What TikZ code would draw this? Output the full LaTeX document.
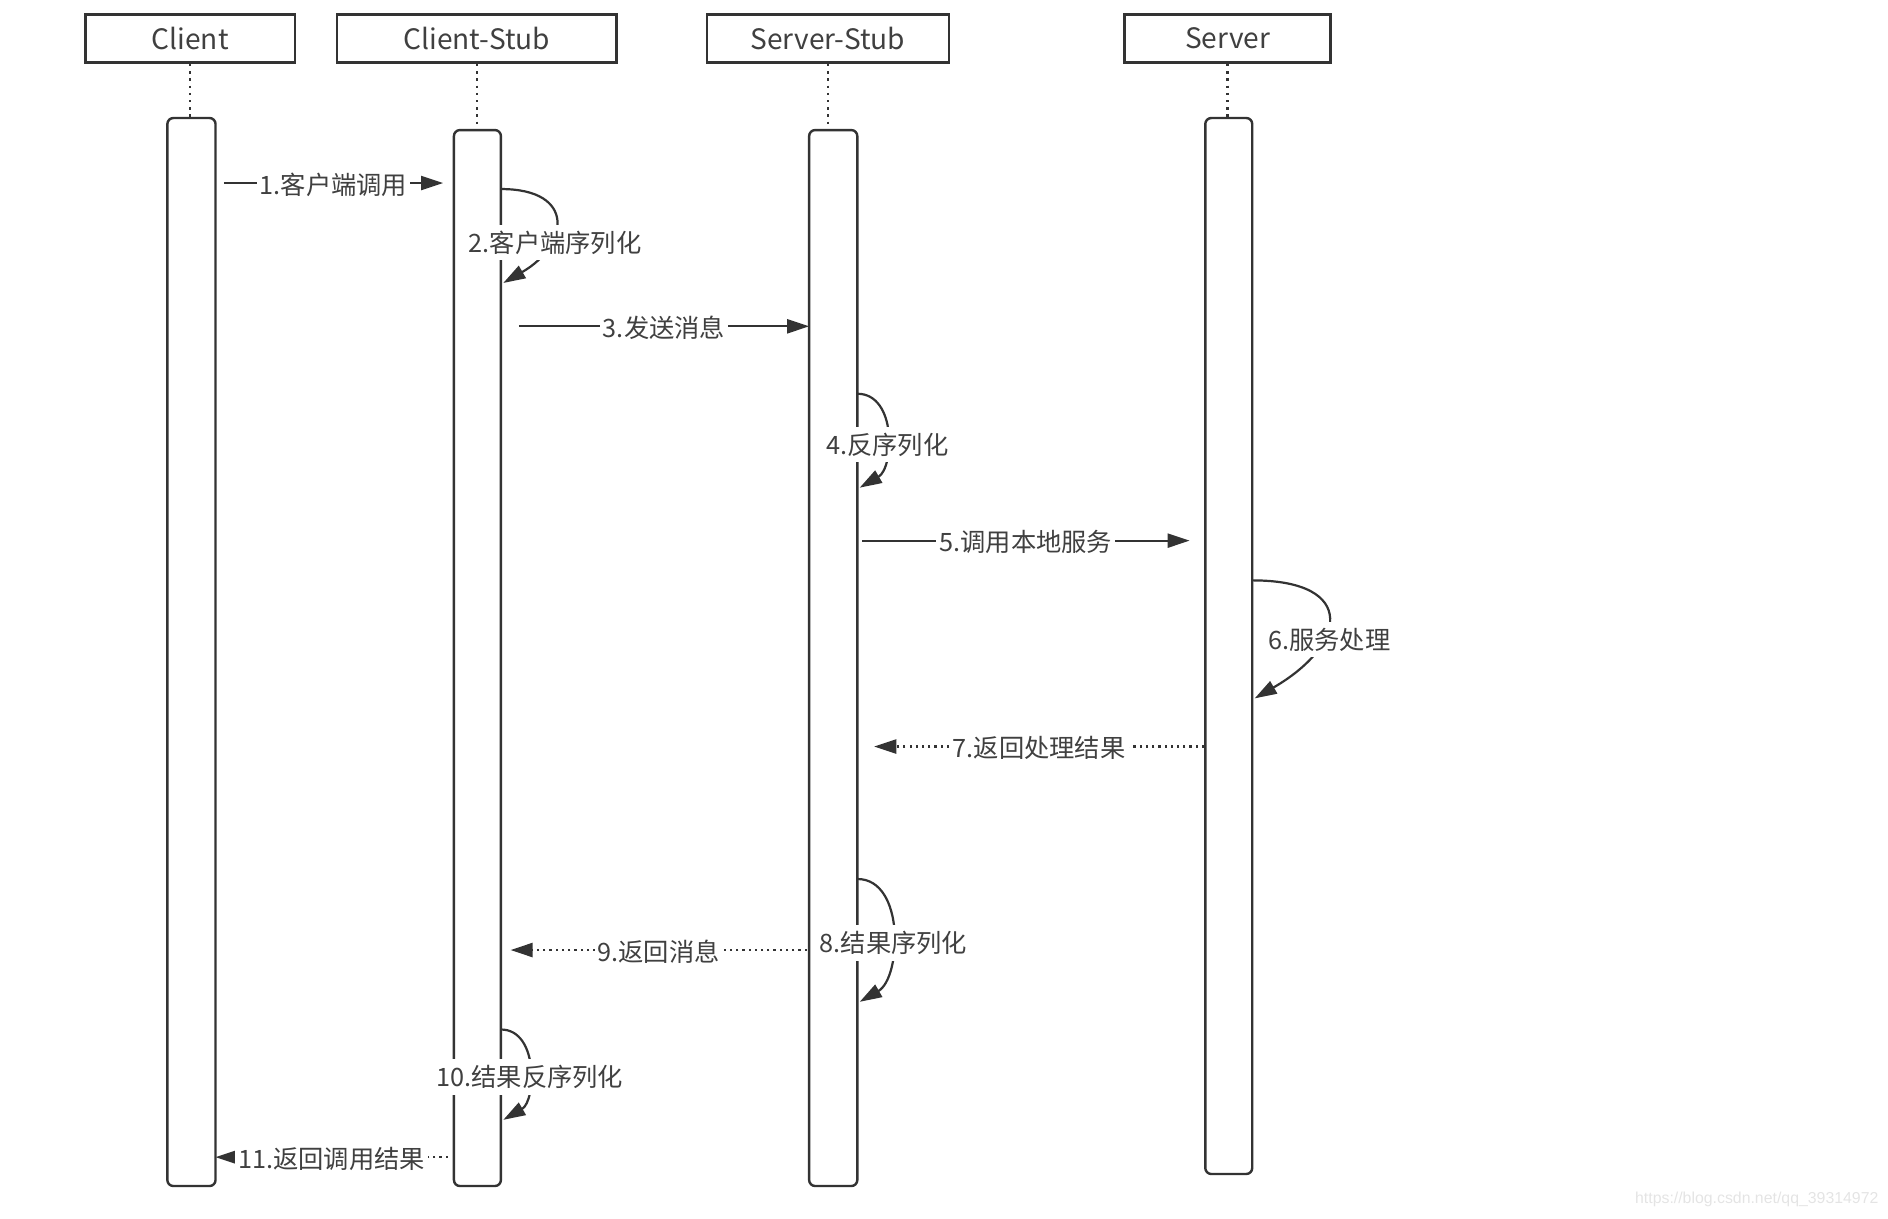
\documentclass[tikz,border=0pt]{standalone}
\usepackage{fontspec}
\setmainfont{Noto Sans CJK SC}
\newfontfamily\urlfont{Liberation Sans}
\usetikzlibrary{arrows.meta,fit}
\definecolor{LineGray}{HTML}{333333}
\definecolor{TextGray}{HTML}{404040}
\definecolor{MarkGray}{HTML}{E4E4E4}

\begin{document}
\begin{tikzpicture}[
    x=0.6pt, y=-0.6pt,
    >={Triangle[length=11pt,width=7pt]},
    role/.style={rectangle,draw=LineGray,line width=1.3pt,text=TextGray,
      font=\fontsize{14}{16}\selectfont,minimum height=24pt,inner sep=0pt},
    bar/.style={rectangle,rounded corners=3pt,draw=LineGray,line width=1.2pt,
      fill=white,inner sep=0pt},
    life/.style={LineGray,line width=1.2pt,dash pattern=on 1.2pt off 2.4pt},
    msg/.style={->,LineGray,line width=1.1pt},
    reply/.style={msg,dash pattern=on 1.1pt off 2pt},
    lbl/.style={fill=white,text=TextGray,font=\fontsize{12.6}{14}\selectfont,
      inner xsep=1.5pt,inner ysep=3pt,yshift=-0.8pt},
  ]
  \useasboundingbox (0,0) rectangle (1568,1012);
  % Participants
  \node[role,minimum width=104.4pt] (client) at (158,32) {Client};
  \node[role,minimum width=139.2pt] (cstub) at (396,32) {Client-Stub};
  \node[role,minimum width=120.6pt] (sstub) at (687.5,32) {Server-Stub};
  \node[role,minimum width=102.6pt] (server) at (1019.5,32) {Server};
  % Activation bars
  \node[bar,fit={(139,98) (179,985)}] (cbar) {};
  \node[bar,fit={(377,108) (416,985)}] (csbar) {};
  \node[bar,fit={(672,108) (712,985)}] (ssbar) {};
  \node[bar,fit={(1001,98) (1040,975)}] (sbar) {};
  % Lifelines
  \draw[life] (client.south) -- (client.south |- cbar.north);
  \draw[life] (cstub.south) -- (cstub.south |- csbar.north);
  \draw[life] (sstub.south) -- (sstub.south |- ssbar.north);
  \draw[life] (server.south) -- (server.south |- sbar.north);
  % 1 - Client -> Client-Stub
  \coordinate (m1a) at (186,152);
  \coordinate (m1b) at (368,152);
  \draw[msg] (m1a) -- node[lbl] (t1) {1.客户端调用} (m1b);
  % 2 - self on Client-Stub
  \coordinate (s2a) at (416,157);
  \coordinate (s2b) at (418,235);
  \draw[msg] (s2a) to[out=0,in=30,looseness=2.06] (s2b);
  \node[lbl] (t2) at (461,200) {2.客户端序列化};
  % 3 - Client-Stub -> Server-Stub
  \coordinate (m3a) at (431,271);
  \coordinate (m3b) at (672,271);
  \draw[msg] (m3a) -- node[lbl] (t3) {3.发送消息} (m3b);
  % 4 - self on Server-Stub
  \coordinate (s4a) at (712,327);
  \coordinate (s4b) at (714,405);
  \draw[msg] (s4a) to[out=0,in=30,looseness=1.08] (s4b);
  \node[lbl] (t4) at (737,368) {4.反序列化};
  % 5 - Server-Stub -> Server
  \coordinate (m5a) at (716,449);
  \coordinate (m5b) at (988,449);
  \draw[msg] (m5a) -- node[lbl] (t5) {5.调用本地服务} (m5b);
  % 6 - self on Server
  \coordinate (s6a) at (1040,482);
  \coordinate (s6b) at (1042,580);
  \draw[msg] (s6a) to[out=0,in=30,looseness=2.3] (s6b);
  \node[lbl] (t6) at (1104,530) {6.服务处理};
  % 7 - Server -> Server-Stub (return)
  \coordinate (m7a) at (1000,620);
  \coordinate (m7b) at (726,620);
  \draw[reply] (m7a) -- node[lbl] (t7) {7.返回处理结果} (m7b);
  % 8 - self on Server-Stub
  \coordinate (s8a) at (712,730);
  \coordinate (s8b) at (714,832);
  \draw[msg] (s8a) to[out=0,in=30,looseness=1.0] (s8b);
  \node[lbl] (t8) at (742,782) {8.结果序列化};
  % 9 - Server-Stub -> Client-Stub (return)
  \coordinate (m9a) at (670,789);
  \coordinate (m9b) at (424,789);
  \draw[reply] (m9a) -- node[lbl] (t9) {9.返回消息} (m9b);
  % 10 - self on Client-Stub
  \coordinate (s10a) at (416,855);
  \coordinate (s10b) at (418,930);
  \draw[msg] (s10a) to[out=0,in=30,looseness=1.07] (s10b);
  \node[lbl] (t10) at (440,893) {10.结果反序列化};
  % 11 - Client-Stub -> Client (return)
  \coordinate (m11a) at (372,961);
  \coordinate (m11b) at (179,961);
  \draw[reply] (m11a) -- node[lbl] (t11) {11.返回调用结果} (m11b);
  % Watermark
  \node[font=\urlfont\fontsize{7.9}{9}\selectfont,text=MarkGray] (mark)
    at (1459,996) {https://blog.csdn.net/qq\_39314972};
\end{tikzpicture}
\end{document}
